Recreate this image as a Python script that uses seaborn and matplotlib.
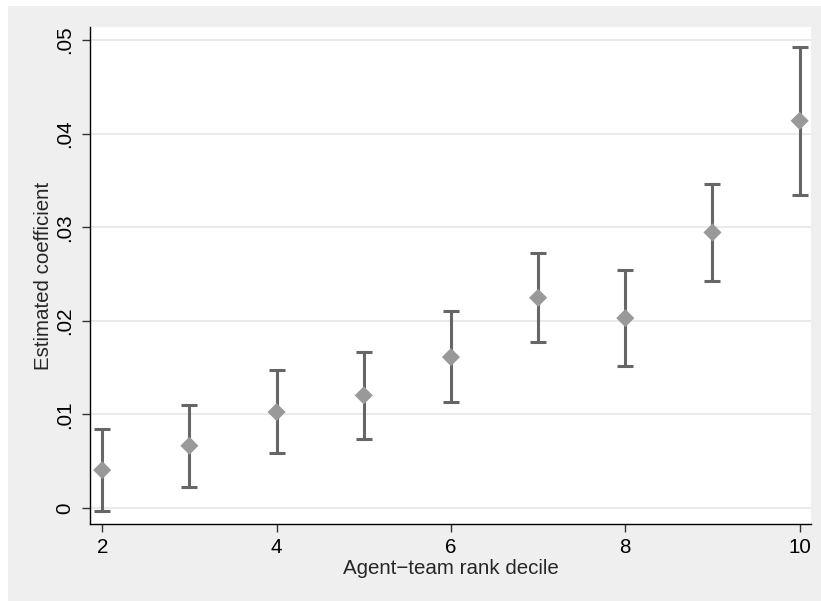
import matplotlib
matplotlib.use("Agg")
import matplotlib.pyplot as plt
import seaborn as sns
import pandas as pd
from matplotlib.patches import Rectangle

deciles = [2, 3, 4, 5, 6, 7, 8, 9, 10]
coef = [0.00406, 0.00666, 0.01026, 0.01204, 0.01613, 0.02247, 0.0203, 0.02945, 0.04138]
ci_low = [-0.0003, 0.00224, 0.00584, 0.0074, 0.01129, 0.0177, 0.01517, 0.02428, 0.03347]
ci_high = [0.0084, 0.01104, 0.01474, 0.0167, 0.02105, 0.02721, 0.02546, 0.03458, 0.04928]
xticks = [2, 4, 6, 8, 10]
yticks = [0, 0.01, 0.02, 0.03, 0.04, 0.05]
ytick_labels = ["0", ".01", ".02", ".03", ".04", ".05"]

df = pd.DataFrame({"decile": deciles, "coef": coef, "lo": ci_low, "hi": ci_high})

sns.set_style("white")
plt.rcParams["font.family"] = ["Liberation Sans", "DejaVu Sans"]

W, H = 821, 601
fig = plt.figure(figsize=(W / 100, H / 100), dpi=100, facecolor="#efefef")
# white margins on the top and left edges
fig.patches.append(Rectangle((0, 1 - 6 / H), 1, 6 / H, transform=fig.transFigure,
                             facecolor="white", edgecolor="none", zorder=-10))
fig.patches.append(Rectangle((0, 0), 8 / W, 1, transform=fig.transFigure,
                             facecolor="white", edgecolor="none", zorder=-10))
ax = fig.add_axes([90 / W, 1 - 524 / H, (811 - 90) / W, (524 - 27) / H])
ax.set_facecolor("white")

ax.set_xlim(1.86, 10.13)
ax.set_ylim(-0.0017, 0.0514)

for y in yticks:
    ax.axhline(y, color="#e6e6e6", lw=1.2, zorder=0)

ax.errorbar(df["decile"], df["coef"],
            yerr=[df["coef"] - df["lo"], df["hi"] - df["coef"]],
            fmt="none", ecolor="#666666", elinewidth=2.2, capsize=5.5, capthick=2.2, zorder=2)
sns.scatterplot(data=df, x="decile", y="coef", marker="D", s=85, color="#999999",
                edgecolor="none", ax=ax, zorder=3)

ax.set_xticks(xticks)
ax.set_xticklabels([str(x) for x in xticks])
ax.set_yticks(yticks)
ax.set_yticklabels(ytick_labels, rotation=90, va="center")

ax.tick_params(axis="both", which="major", direction="out", length=5.8, width=1,
               color="#333333", labelsize=14.8, labelcolor="black",
               bottom=True, left=True, top=False, right=False)
ax.tick_params(axis="y", pad=5.5)
ax.tick_params(axis="x", pad=4)

for s in ["top", "right"]:
    ax.spines[s].set_visible(False)
for s in ["left", "bottom"]:
    ax.spines[s].set_color("black")
    ax.spines[s].set_linewidth(1)

ax.set_xlabel("Agent\u2212team rank decile", fontsize=14.8, labelpad=2)
ax.set_ylabel("Estimated coefficient", fontsize=14.8, labelpad=2)

fig.savefig("out.png", dpi=100, facecolor=fig.get_facecolor())
